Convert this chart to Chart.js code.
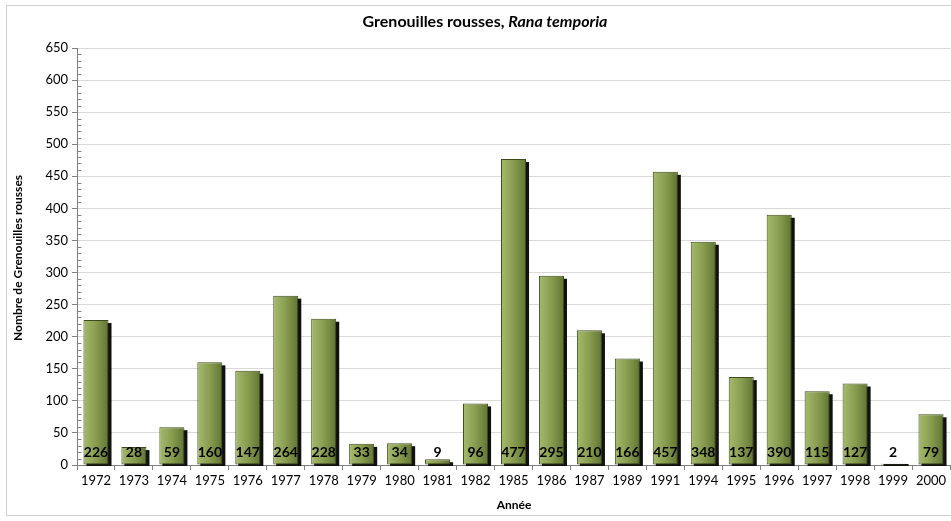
<!DOCTYPE html>
<html>
<head>
<meta charset="utf-8">
<script src="https://cdn.jsdelivr.net/npm/chart.js@4/dist/chart.umd.min.js"></script>
<style>
  html, body { margin: 0; padding: 0; background: #fff; }
  #wrap { width: 951px; height: 521px; position: relative; }
</style>
</head>
<body>
<div id="wrap"><canvas id="c"></canvas></div>
<script>
// data
const years = ['1972', '1973', '1974', '1975', '1976', '1977', '1978', '1979', '1980', '1981', '1982',
    '1985', '1986', '1987', '1989', '1991', '1994', '1995', '1996', '1997', '1998', '1999', '2000'];
const counts = [226, 28, 59, 160, 147, 264, 228, 33, 34, 9, 96, 477, 295, 210, 166, 457, 348, 137, 390, 115, 127, 2, 79];
const titleMain = 'Grenouilles rousses, ';
const titleItalic = 'Rana temporia';
const yTitle = 'Nombre de Grenouilles rousses';
const xTitle = 'Année';

const FONT = 'Lato, "Open Sans", sans-serif';
const BAR_PCT = 0.66;

function barGradient(ctx) {
    const chart = ctx.chart;
    const xs = chart.scales.x;
    if (!chart.chartArea || !xs || ctx.dataIndex === undefined) return '#7e9446';
    const cx = xs.getPixelForValue(ctx.dataIndex);
    const w = (xs.width / years.length) * BAR_PCT;
    const g = chart.ctx.createLinearGradient(cx - w / 2, 0, cx + w / 2, 0);
    g.addColorStop(0, '#a6ba6e');
    g.addColorStop(0.5, '#889d4f');
    g.addColorStop(1, '#617534');
    return g;
}

const framePlugin = {
    id: 'frame',
    beforeDraw(chart) {
        const c = chart.ctx;
        c.save();
        c.fillStyle = '#fff';
        c.fillRect(0, 0, chart.width, chart.height);
        c.strokeStyle = '#d0d0d0';
        c.lineWidth = 1;
        c.strokeRect(6.5, 5.5, 960, 510);
        c.restore();
    }
};

// dark drop shadow behind every bar, offset right and down
const shadowPlugin = {
    id: 'barShadow',
    beforeDatasetsDraw(chart) {
        const c = chart.ctx;
        const base = chart.scales.y.getPixelForValue(0);
        c.save();
        c.fillStyle = '#111';
        chart.getDatasetMeta(0).data.forEach(bar => {
            const left = bar.x - bar.width / 2 + 3;
            const top = Math.min(bar.y + 3, base - 1);
            c.fillRect(left, top, bar.width, base - top + 1);
        });
        c.restore();
    }
};

const textPlugin = {
    id: 'texts',
    afterDraw(chart) {
        const c = chart.ctx;
        const area = chart.chartArea;
        const ys = chart.scales.y;
        c.save();
        c.fillStyle = '#000';

        // title, bold + bold italic
        c.font = 'bold 16px ' + FONT;
        const w1 = c.measureText(titleMain).width;
        c.font = 'italic bold 16px ' + FONT;
        const w2 = c.measureText(titleItalic).width;
        let tx = 485 - (w1 + w2) / 2;
        c.textBaseline = 'middle';
        c.textAlign = 'left';
        c.font = 'bold 16px ' + FONT;
        c.fillText(titleMain, tx, 22);
        c.font = 'italic bold 16px ' + FONT;
        c.fillText(titleItalic, tx + w1, 22);

        // axis titles
        c.font = 'bold 12px ' + FONT;
        c.textAlign = 'center';
        c.fillText(xTitle, 514, 505);
        c.save();
        c.translate(18, 258);
        c.rotate(-Math.PI / 2);
        c.fillText(yTitle, 0, 0);
        c.restore();

        // value labels at the foot of each bar
        c.font = 'bold 14px ' + FONT;
        const meta = chart.getDatasetMeta(0);
        meta.data.forEach((bar, i) => {
            c.fillText(String(counts[i]), bar.x, 452);
        });

        // minor ticks on the y axis
        c.strokeStyle = '#808080';
        c.lineWidth = 1;
        const x0 = Math.round(area.left) + 0.5;
        for (let v = 0; v <= 650; v += 10) {
            if (v % 50 === 0) continue;
            const y = Math.round(ys.getPixelForValue(v)) + 0.5;
            c.beginPath();
            c.moveTo(x0, y);
            c.lineTo(x0 + 4, y);
            c.stroke();
        }
        c.restore();
    }
};

new Chart(document.getElementById('c'), {
    type: 'bar',
    data: {
        labels: years,
        datasets: [{
            data: counts,
            backgroundColor: barGradient,
            borderColor: '#3d4b1c',
            borderWidth: 1,
            borderSkipped: false,
            barPercentage: BAR_PCT,
            categoryPercentage: 1
        }]
    },
    options: {
        responsive: true,
        maintainAspectRatio: false,
        animation: false,
        layout: { padding: { top: 48, right: 1, left: 0, bottom: 0 } },
        plugins: {
            legend: { display: false },
            tooltip: { enabled: false }
        },
        scales: {
            x: {
                grid: { display: true, drawOnChartArea: false, drawTicks: true, tickLength: 5, color: '#808080', offset: true },
                border: { color: '#808080' },
                ticks: { color: '#000', font: { family: FONT, size: 13 }, maxRotation: 0, autoSkip: false, padding: 3 },
                afterFit(scale) { scale.height = 56; }
            },
            y: {
                min: 0,
                max: 650,
                ticks: { stepSize: 50, color: '#000', font: { family: FONT, size: 13 }, padding: 4 },
                grid: { color: '#d9d9d9', tickLength: 5, tickColor: '#808080' },
                border: { color: '#808080' },
                afterFit(scale) { scale.width = 77; }
            }
        }
    },
    plugins: [framePlugin, shadowPlugin, textPlugin]
});
</script>
</body>
</html>
